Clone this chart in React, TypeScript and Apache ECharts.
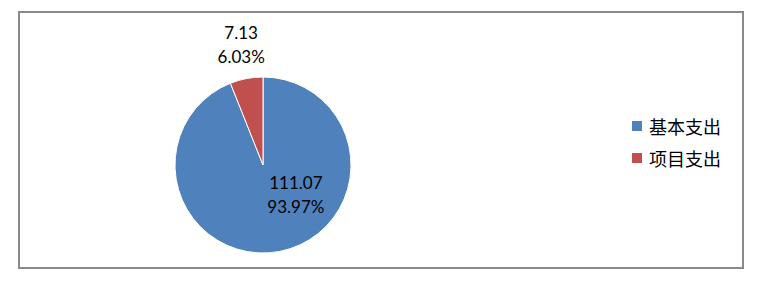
import React, { useEffect, useRef } from "react";
import * as echarts from "echarts";

const categories = ["基本支出", "项目支出"];
const values = [111.07, 7.13];
const percents = ["93.97%", "6.03%"];
const colors = ["#4F81BD", "#C0504D"];

export default function App() {
  const ref = useRef<HTMLDivElement>(null);
  useEffect(() => {
    document.body.style.margin = "0";
    const chart = echarts.init(ref.current!, null, { renderer: "svg" });
    const labelOffsets = [
      [24, -17],
      [-13, -74],
    ];
    chart.setOption({
      animation: false,
      graphic: [
        {
          type: "rect",
          shape: { x: 19, y: 12, width: 724, height: 256 },
          style: { fill: "none", stroke: "#898989", lineWidth: 2 },
          silent: true,
        },
      ],
      legend: {
        orient: "vertical",
        left: 630,
        top: 117,
        padding: 0,
        itemWidth: 12,
        itemHeight: 12,
        itemGap: 14,
        icon: "rect",
        textStyle: { fontSize: 18, color: "#000", fontFamily: "Noto Sans CJK SC", padding: [0, 0, 0, 1] },
        data: categories,
      },
      series: [
        {
          type: "pie",
          center: [263, 165],
          radius: 88,
          startAngle: 90,
          clockwise: true,
          labelLine: { show: false },
          itemStyle: { borderColor: "#fff", borderWidth: 1 },
          data: categories.map((c, i) => ({
            name: c,
            value: values[i],
            itemStyle: { color: colors[i] },
            label: {
              show: true,
              position: "inside",
              offset: labelOffsets[i],
              formatter: `${values[i]}\n${percents[i]}`,
              fontSize: 17,
              lineHeight: 24,
              color: "#000",
              fontFamily: "Lato",
              align: "center",
            },
          })),
        },
      ],
    });
    return () => chart.dispose();
  }, []);
  return <div ref={ref} style={{ width: 770, height: 284 }} />;
}
